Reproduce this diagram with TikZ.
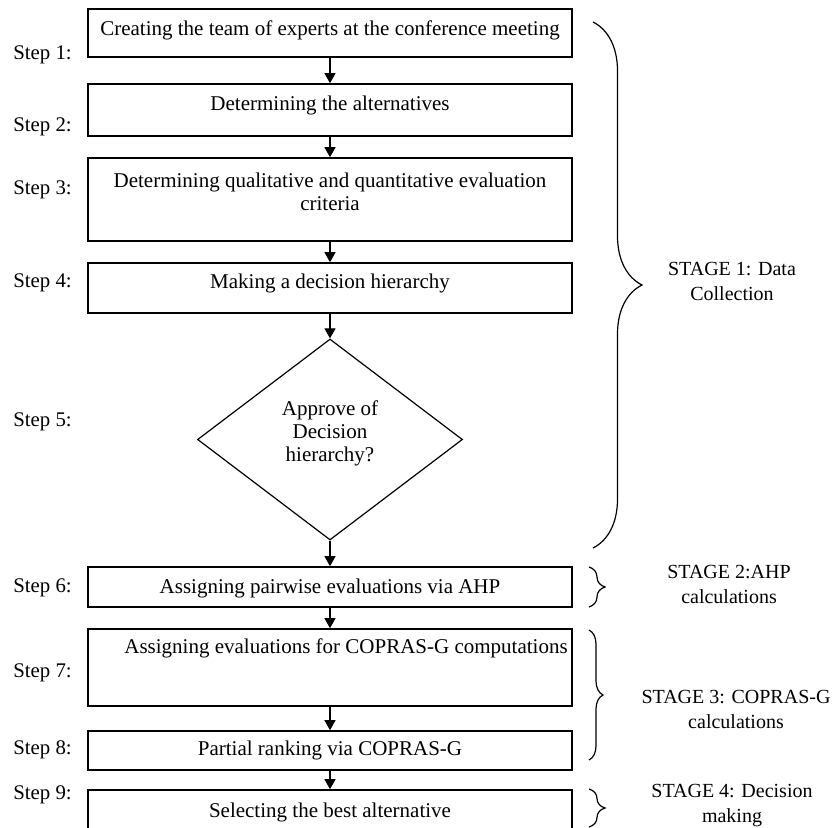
\documentclass[tikz,border=0pt]{standalone}
\usepackage{fontspec}
\setmainfont{Liberation Serif}
\usetikzlibrary{shapes.geometric,arrows.meta,decorations.pathreplacing}
\begin{document}
\begin{tikzpicture}[x=0.5pt,y=-0.5pt,
  box/.style={draw,line width=0.8pt,minimum width=242pt,inner sep=0pt},
  decision/.style={draw,diamond,line width=0.6pt,minimum width=132.5pt,minimum height=100.5pt,inner sep=0pt},
  txt/.style={font=\fontsize{10.5}{11.5}\selectfont,align=center,inner sep=0pt},
  steplabel/.style={anchor=west,font=\fontsize{10.4}{12}\selectfont,inner sep=0pt},
  stagetext/.style={font=\fontsize{10}{12.5}\selectfont,align=center,inner sep=0pt},
  flow/.style={line width=0.6pt,-{Triangle[length=5pt,width=5.5pt]}},
  stagebrace/.style={line width=0.6pt,decorate,decoration={brace,amplitude=#1}}]
\clip (0,0) rectangle (835,828);
\node[box,minimum height=24pt] (b1) at (330,33) {};
\node[txt] (t1) at (330,30) {Creating the team of experts at the conference meeting};
\node[box,minimum height=26pt] (b2) at (330,110) {};
\node[txt] (t2) at (330,105) {Determining the alternatives};
\node[box,minimum height=41.5pt] (b3) at (330,199.5) {};
\node[txt] (t3) at (330,191.5) {Determining qualitative and quantitative evaluation\\criteria};
\node[box,minimum height=25pt] (b4) at (330,288) {};
\node[txt] (t4) at (330,283) {Making a decision hierarchy};
\node[decision] (d5) at (330,439.5) {};
\node[txt] (t5) at (330,433) {Approve of\\Decision\\hierarchy?};
\node[box,minimum height=20pt] (b6) at (330,587) {};
\node[txt] (t6) at (330,588) {Assigning pairwise evaluations via AHP};
\node[box,minimum height=38.5pt] (b7) at (330,667.5) {};
\node[txt] (t7) at (346,648) {Assigning evaluations for COPRAS-G computations};
\node[box,minimum height=19.5pt] (b8) at (330,750.5) {};
\node[txt] (t8) at (330,750) {Partial ranking via COPRAS-G};
\node[box,minimum height=22pt] (b9) at (330,812) {};
\node[txt] (t9) at (330,812) {Selecting the best alternative};
\foreach \a/\b in {b1/b2,b2/b3,b3/b4,b4/d5,d5/b6,b6/b7,b7/b8,b8/b9}
  \draw[flow] (\a) -- (\b);
\foreach \n/\y in {1/55,2/127,3/190,4/283,5/422,6/588,7/673,8/750,9/795}
  \node[steplabel] (s\n) at (13,\y) {Step \n:};
\draw[stagebrace=24.5pt] (593,22) -- (593,548);
\node[stagetext] (g1) at (732,281) {STAGE 1: Data\\Collection};
\draw[stagebrace=8pt] (589,567) -- (589,607);
\node[stagetext] (g2) at (729,584) {STAGE 2:AHP\\calculations};
\draw[stagebrace=7pt] (589,630) -- (589,760);
\node[stagetext] (g3) at (736,709) {STAGE 3: COPRAS-G\\calculations};
\draw[stagebrace=8pt] (589,789) -- (589,827);
\node[stagetext] (g4) at (732,806) {STAGE 4: Decision\\making};
\end{tikzpicture}
\end{document}
